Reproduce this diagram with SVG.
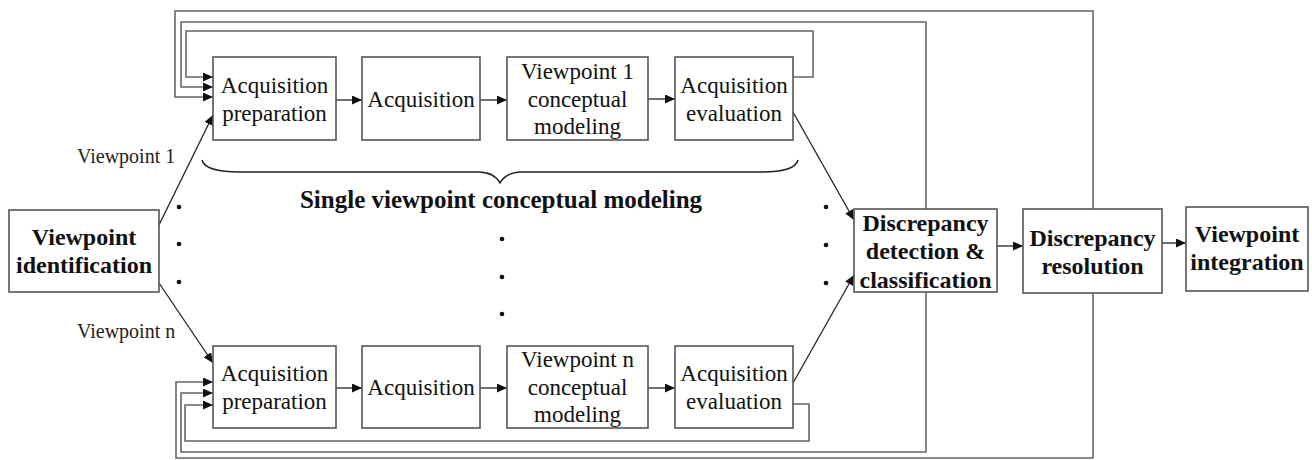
<svg xmlns="http://www.w3.org/2000/svg" width="1312" height="460" viewBox="0 0 1312 460">
<defs>
<marker id="ah" markerUnits="userSpaceOnUse" markerWidth="11" markerHeight="9" refX="10" refY="4.5" orient="auto">
<path d="M0,0 L10,4.5 L0,9 z" fill="#111"/>
</marker>
<style>
.box{fill:#fff;stroke:#555;stroke-width:1.6}
.t{font-family:"Liberation Serif","Times New Roman",serif;font-size:23px;fill:#111;text-anchor:middle}
.b{font-family:"Liberation Serif","Times New Roman",serif;font-size:24px;font-weight:bold;fill:#111;text-anchor:middle}
.lbl{font-family:"Liberation Serif","Times New Roman",serif;font-size:20px;fill:#222}
.loop{fill:none;stroke:#666;stroke-width:1.6}
.arr{fill:none;stroke:#222;stroke-width:1.3;marker-end:url(#ah)}
.fb{stroke:#666}
.dot{fill:#111}
</style>
</defs>
<rect width="1312" height="460" fill="#fff"/>

<g id="connectors">
<path class="loop" d="M793,77 H813 V31 H186 V77 H202"/>
<path class="arr fb" d="M202,77 H213"/>
<path class="loop" d="M926,209 V22 H181 V87 H202"/>
<path class="arr fb" d="M202,87 H213"/>
<path class="loop" d="M1093,209 V11 H175 V97 H202"/>
<path class="arr fb" d="M202,97 H213"/>
<path class="loop" d="M793,404 H809 V441 H185 V405 H202"/>
<path class="arr fb" d="M202,405 H213"/>
<path class="loop" d="M926,292 V452 H181 V393 H202"/>
<path class="arr fb" d="M202,393 H213"/>
<path class="loop" d="M1093,293 V458 H176 V382 H202"/>
<path class="arr fb" d="M202,382 H213"/>
<path class="arr" d="M336,100 H362"/>
<path class="arr" d="M480,100 H507"/>
<path class="arr" d="M648,99 H675"/>
<path class="arr" d="M336,388 H362"/>
<path class="arr" d="M480,388 H507"/>
<path class="arr" d="M648,388 H675"/>
<path class="arr" d="M159,225 L213,115"/>
<path class="arr" d="M159,283 L213,363"/>
<path class="arr" d="M793,112 L854,220"/>
<path class="arr" d="M793,383 L854,275"/>
<path class="arr" d="M997,246 H1023"/>
<path class="arr" d="M1162,243 H1186"/>
</g>

<path id="brace" d="M202,160 Q205,172 240,172 H478 Q494,172 500,183 Q506,172 522,172 H762 Q795,172 798,160" fill="none" stroke="#222" stroke-width="1.5"/>

<g id="vp-identification">
<rect class="box" x="9" y="210" width="150" height="82"/>
<text class="b" x="84" y="245">Viewpoint</text>
<text class="b" x="84" y="273">identification</text>
</g>

<g id="acq-prep-1">
<rect class="box" x="213" y="57" width="123" height="83"/>
<text class="t" x="274.5" y="92.5">Acquisition</text>
<text class="t" x="274.5" y="120.5">preparation</text>
</g>
<g id="acq-1">
<rect class="box" x="362" y="57" width="118" height="83"/>
<text class="t" x="421" y="106.5">Acquisition</text>
</g>
<g id="vp1-model">
<rect class="box" x="507" y="57" width="141" height="83"/>
<text class="t" x="577.5" y="79">Viewpoint 1</text>
<text class="t" x="577.5" y="106.5">conceptual</text>
<text class="t" x="577.5" y="134">modeling</text>
</g>
<g id="acq-eval-1">
<rect class="box" x="675" y="57" width="118" height="83"/>
<text class="t" x="734" y="92.5">Acquisition</text>
<text class="t" x="734" y="120.5">evaluation</text>
</g>

<g id="acq-prep-n">
<rect class="box" x="213" y="346" width="123" height="82"/>
<text class="t" x="274.5" y="381">Acquisition</text>
<text class="t" x="274.5" y="409">preparation</text>
</g>
<g id="acq-n">
<rect class="box" x="362" y="346" width="118" height="82"/>
<text class="t" x="421" y="395">Acquisition</text>
</g>
<g id="vpn-model">
<rect class="box" x="507" y="346" width="141" height="82"/>
<text class="t" x="577.5" y="367">Viewpoint n</text>
<text class="t" x="577.5" y="395">conceptual</text>
<text class="t" x="577.5" y="422">modeling</text>
</g>
<g id="acq-eval-n">
<rect class="box" x="675" y="346" width="118" height="82"/>
<text class="t" x="734" y="381">Acquisition</text>
<text class="t" x="734" y="409">evaluation</text>
</g>

<g id="discrepancy-detection">
<rect class="box" x="854" y="209" width="143" height="83"/>
<text class="b" x="925.5" y="231">Discrepancy</text>
<text class="b" x="925.5" y="259">detection &amp;</text>
<text class="b" x="925.5" y="288">classification</text>
</g>
<g id="discrepancy-resolution">
<rect class="box" x="1023" y="209" width="139" height="84"/>
<text class="b" x="1092.5" y="246">Discrepancy</text>
<text class="b" x="1092.5" y="274">resolution</text>
</g>
<g id="vp-integration">
<rect class="box" x="1186" y="207" width="122" height="84"/>
<text class="b" x="1247" y="242">Viewpoint</text>
<text class="b" x="1247" y="270">integration</text>
</g>

<g id="labels">
<text class="lbl" x="77" y="163">Viewpoint 1</text>
<text class="lbl" x="77" y="338">Viewpoint n</text>
<text class="b" x="501" y="208" style="font-size:25px">Single viewpoint conceptual modeling</text>
</g>

<g id="dots">
<circle class="dot" cx="179" cy="207" r="2.3"/>
<circle class="dot" cx="179" cy="244" r="2.3"/>
<circle class="dot" cx="179" cy="282" r="2.3"/>
<circle class="dot" cx="502" cy="239" r="2.3"/>
<circle class="dot" cx="502" cy="277" r="2.3"/>
<circle class="dot" cx="502" cy="314" r="2.3"/>
<circle class="dot" cx="826" cy="207" r="2.3"/>
<circle class="dot" cx="826" cy="245" r="2.3"/>
<circle class="dot" cx="826" cy="283" r="2.3"/>
</g>
</svg>
